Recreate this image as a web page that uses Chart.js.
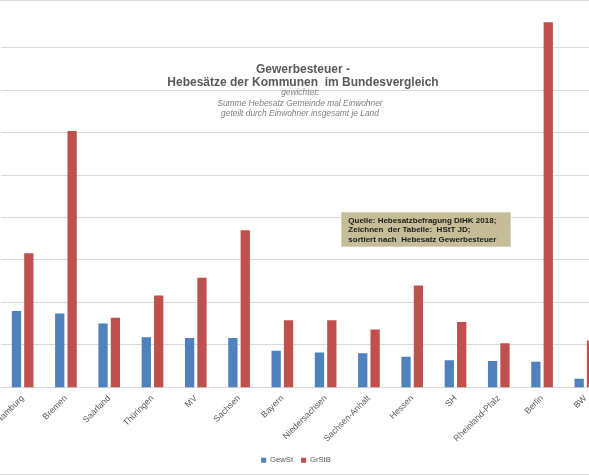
<!DOCTYPE html>
<html>
<head>
<meta charset="utf-8">
<title>Gewerbesteuer - Hebesätze</title>
<script src="https://cdn.jsdelivr.net/npm/chart.js@4.4.1/dist/chart.umd.min.js"></script>
<style>
  html, body { margin: 0; padding: 0; overflow: hidden; background: #fff; }
  #frame {
    position: absolute; left: -40px; top: 0;
    width: 672px; height: 473px;
    border-top: 1px solid #d9d9d9; border-bottom: 1px solid #d9d9d9;
  }
</style>
</head>
<body>
<div id="frame"><canvas id="chart" width="672" height="473"></canvas></div>
<script>
"use strict";

// Länder, sortiert nach Hebesatz Gewerbesteuer
const categories = ['Hamburg', 'Bremen', 'Saarland', 'Thüringen', 'MV', 'Sachsen', 'Bayern',
                    'Niedersachsen', 'Sachsen-Anhalt', 'Hessen', 'SH', 'Rheinland-Pfalz', 'Berlin', 'BW'];
const gewSt = [470, 467, 455, 439, 438, 438, 423, 421, 420, 416, 412, 411, 410, 390];
const grStB = [538, 682, 462, 488, 509, 565, 459, 459, 448, 500, 457, 432, 810, 435];

const yTicks = [380, 430, 480, 530, 580, 630, 680, 730, 780];
const yMin = 380;
const yMax = 835;

const titleLines = ['Gewerbesteuer -', 'Hebesätze der Kommunen  im Bundesvergleich'];
const subtitleLines = ['gewichtet:', 'Summe Hebesatz Gemeinde mal Einwohner',
                       'geteilt durch Einwohner insgesamt je Land'];
const noteLines = ['Quelle: Hebesatzbefragung DIHK 2018;', 'Zeichnen  der Tabelle:  HStT JD;',
                   'sortiert nach  Hebesatz Gewerbesteuer'];

const FONT = '"Liberation Sans", Arial, sans-serif';
const GRID = '#d9d9d9';
const TEXT = '#595959';

// title, subtitle and the source box sit on top of the plot area
const overlayText = {
  id: 'overlayText',
  afterDraw(chart) {
    const ctx = chart.ctx;
    ctx.save();
    ctx.textAlign = 'center';
    ctx.textBaseline = 'alphabetic';
    ctx.fillStyle = TEXT;
    ctx.font = 'bold 12px ' + FONT;
    ctx.fillText(titleLines[0], 343, 71.7);
    ctx.fillText(titleLines[1], 343, 84.5);

    ctx.textBaseline = 'middle';
    ctx.fillStyle = '#7f7f7f';
    ctx.font = 'italic 8.4px ' + FONT;
    const subY = [92, 102.5, 112.5];
    subtitleLines.forEach((line, i) => ctx.fillText(line, 340, subY[i]));

    ctx.fillStyle = '#c4bd97';
    ctx.fillRect(381, 211, 170, 35);
    ctx.strokeStyle = '#d8d3bb';
    ctx.lineWidth = 1;
    ctx.strokeRect(381.5, 211.5, 169, 34);
    ctx.textAlign = 'left';
    ctx.fillStyle = '#1a1a1a';
    ctx.font = 'bold 8px ' + FONT;
    const noteY = [219.7, 228.7, 238.3];
    noteLines.forEach((line, i) => ctx.fillText(line, 388.3, noteY[i]));
    ctx.restore();
  }
};

const config = {
  type: 'bar',
  data: {
    labels: categories,
    datasets: [
      { label: 'GewSt', data: gewSt, backgroundColor: '#4f81bd' },
      { label: 'GrStB', data: grStB, backgroundColor: '#c0504d' }
    ]
  },
  options: {
    responsive: false,
    animation: false,
    categoryPercentage: 0.572,
    barPercentage: 0.75,
    layout: { padding: { left: 25, right: 25, top: 0, bottom: 0 } },
    plugins: {
      title: { display: false },
      tooltip: { enabled: false },
      legend: {
        position: 'bottom',
        labels: {
          boxWidth: 5,
          boxHeight: 5,
          padding: 8,
          color: TEXT,
          font: { family: FONT, size: 7.7 }
        }
      }
    },
    scales: {
      x: {
        grid: { display: false, drawTicks: false },
        border: { display: true, color: GRID },
        ticks: {
          autoSkip: false,
          minRotation: 45,
          maxRotation: 45,
          padding: 6,
          color: TEXT,
          font: { family: FONT, size: 8.7 }
        },
        afterFit(scale) {
          scale.height = 61;
          scale.paddingLeft = 0;
          scale.paddingRight = 0;
        }
      },
      y: {
        min: yMin,
        max: yMax,
        grid: { color: GRID, drawTicks: false },
        border: { display: false },
        ticks: { display: false },
        afterBuildTicks(scale) {
          scale.ticks = yTicks.map(v => ({ value: v }));
        },
        afterFit(scale) {
          scale.width = 16;
        }
      }
    }
  },
  plugins: [overlayText]
};

new Chart(document.getElementById('chart').getContext('2d'), config);
</script>
</body>
</html>
